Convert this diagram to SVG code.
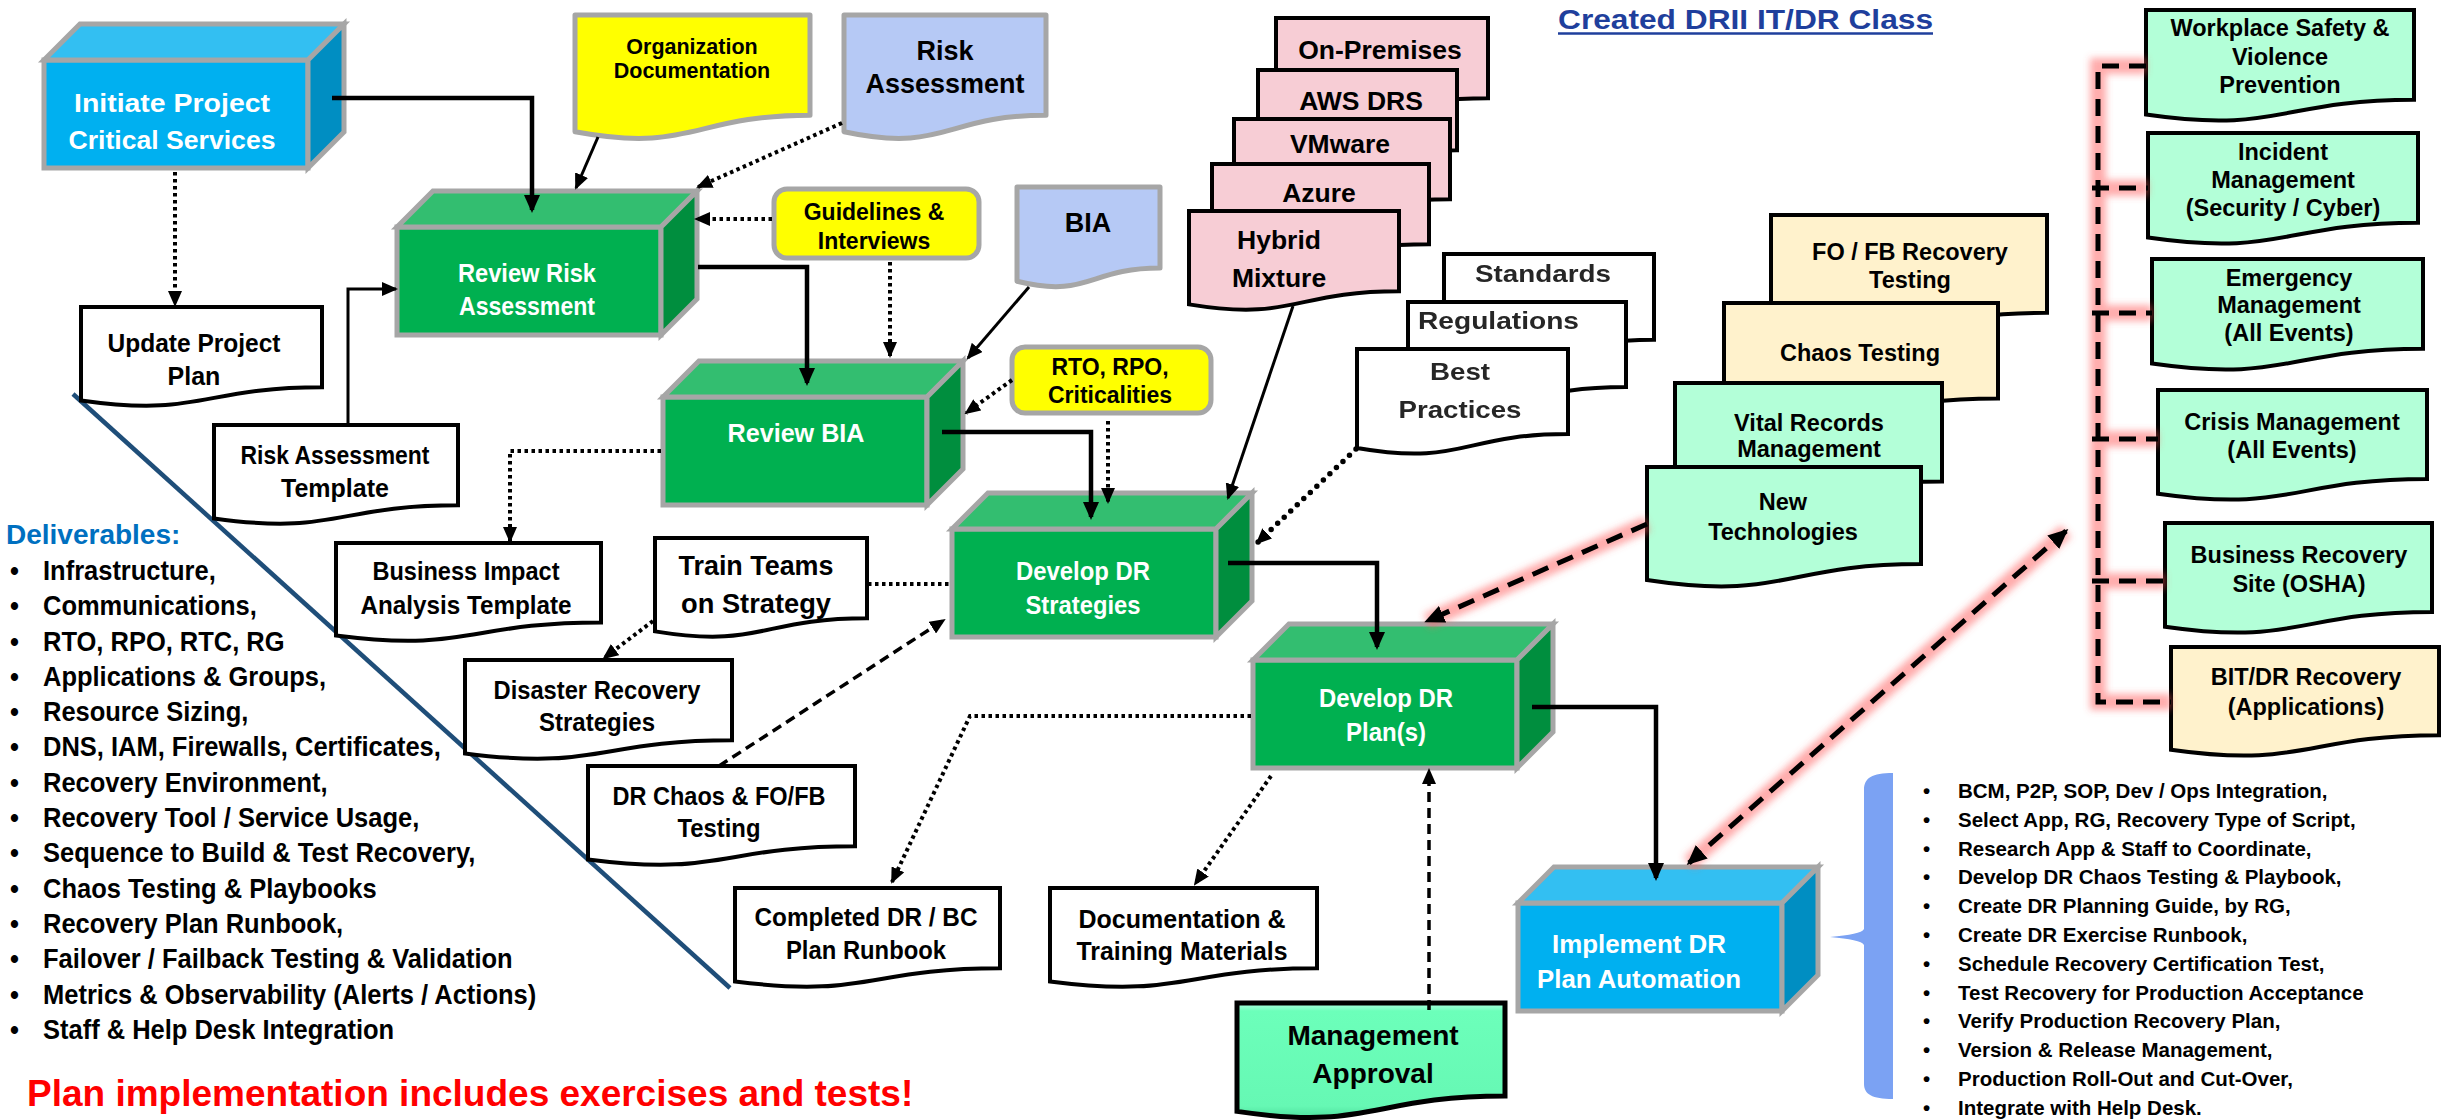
<svg xmlns="http://www.w3.org/2000/svg" width="2445" height="1120" viewBox="0 0 2445 1120">
<defs>
<style>
text { font-family: "Liberation Sans", Arial, Helvetica, sans-serif; font-weight: bold; }
.c { text-anchor: middle; }
.w { fill: #ffffff; }
.k { fill: #000000; }
.cube polygon, .cube rect { stroke: #a6a6a6; stroke-width: 5; stroke-linejoin: miter; }
.cube text { font-size: 26.5px; }
.gf { fill: #00b050; } .gt { fill: #33be70; } .gs { fill: #008e3e; }
.bf { fill: #00b0f0; } .bt { fill: #33bff2; } .bs { fill: #008ec2; }
.doc { stroke: #000000; stroke-width: 4; stroke-linejoin: miter; }
.docg { stroke: #a6a6a6; stroke-width: 5; stroke-linejoin: round; }
.white { fill: #ffffff; } .yellow { fill: #ffff00; } .lblue { fill: #b6c9f5; }
.pink { fill: #f7cdd5; } .mint { fill: #b3ffd8; } .cream { fill: #fff2cc; }
.out text { font-size: 25px; }
.solid { fill: none; stroke: #000; stroke-width: 4.5; }
.thin { fill: none; stroke: #000; stroke-width: 3; }
.dot { fill: none; stroke: #000; stroke-width: 4; stroke-dasharray: 3.5 3.5; }
.dash { fill: none; stroke: #000; stroke-width: 3.5; stroke-dasharray: 10 6; }
.glow { fill: none; stroke: #ff5a5a; stroke-width: 16; stroke-opacity: 0.5; }
.rdash { fill: none; stroke: #000; stroke-width: 5; stroke-dasharray: 17 10; }
.list { font-size: 27.5px; fill: #000; }
.rlist { font-size: 20.5px; fill: #000; }
</style>
<marker id="ah" markerUnits="userSpaceOnUse" markerWidth="18" markerHeight="16" viewBox="0 0 18 16" refX="15" refY="8" orient="auto"><path d="M0,0 L18,8 L0,16 Z" fill="#000"/></marker>
<marker id="ahs" markerUnits="userSpaceOnUse" markerWidth="16" markerHeight="14" viewBox="0 0 16 14" refX="14" refY="7" orient="auto"><path d="M0,0 L16,7 L0,14 Z" fill="#000"/></marker>
<marker id="ahr" markerUnits="userSpaceOnUse" markerWidth="20" markerHeight="18" viewBox="0 0 20 18" refX="17" refY="9" orient="auto-start-reverse"><path d="M0,0 L20,9 L0,18 Z" fill="#000"/></marker>
<filter id="soft" filterUnits="userSpaceOnUse" x="0" y="0" width="2445" height="1120"><feGaussianBlur stdDeviation="3.5"/></filter>
<filter id="haze" filterUnits="userSpaceOnUse" x="1300" y="230" width="400" height="260"><feGaussianBlur stdDeviation="0.6"/></filter>
<linearGradient id="mg" x1="0" y1="0" x2="0" y2="1">
<stop offset="0" stop-color="#b4ffe4"/><stop offset="0.07" stop-color="#6cffba"/><stop offset="0.9" stop-color="#66f8b4"/><stop offset="1" stop-color="#4fe09e"/>
</linearGradient>
</defs>

<rect x="0" y="0" width="2445" height="1120" fill="#ffffff"/>

<!-- diagonal divider behind the deliverable documents -->
<line x1="73" y1="394" x2="730" y2="988" stroke="#1f4e79" stroke-width="4.5"/>

<!-- process cubes -->
<g id="initiate" class="cube">
<rect class="bf" x="44" y="60" width="264" height="108"/>
<polygon class="bt" points="44,60 80,24 344,24 308,60"/>
<polygon class="bs" points="308,60 344,24 344,132 308,168"/>
<text class="c w" x="172" y="112" textLength="196" lengthAdjust="spacingAndGlyphs">Initiate Project</text>
<text class="c w" x="172" y="149" textLength="207" lengthAdjust="spacingAndGlyphs">Critical Services</text>
</g>
<g id="review-risk" class="cube">
<rect class="gf" x="397" y="227" width="264" height="108"/>
<polygon class="gt" points="397,227 433,191 697,191 661,227"/>
<polygon class="gs" points="661,227 697,191 697,299 661,335"/>
<text class="c w" x="527" y="282" textLength="138" lengthAdjust="spacingAndGlyphs">Review Risk</text>
<text class="c w" x="527" y="315" textLength="136" lengthAdjust="spacingAndGlyphs">Assessment</text>
</g>
<g id="review-bia" class="cube">
<rect class="gf" x="663" y="397" width="264" height="108"/>
<polygon class="gt" points="663,397 699,361 963,361 927,397"/>
<polygon class="gs" points="927,397 963,361 963,469 927,505"/>
<text class="c w" x="796" y="442" textLength="137" lengthAdjust="spacingAndGlyphs">Review BIA</text>
</g>
<g id="dr-strategies" class="cube">
<rect class="gf" x="952" y="529" width="264" height="108"/>
<polygon class="gt" points="952,529 988,493 1252,493 1216,529"/>
<polygon class="gs" points="1216,529 1252,493 1252,601 1216,637"/>
<text class="c w" x="1083" y="580" textLength="134" lengthAdjust="spacingAndGlyphs">Develop DR</text>
<text class="c w" x="1083" y="614" textLength="115" lengthAdjust="spacingAndGlyphs">Strategies</text>
</g>
<g id="dr-plans" class="cube">
<rect class="gf" x="1253" y="660" width="264" height="108"/>
<polygon class="gt" points="1253,660 1289,624 1553,624 1517,660"/>
<polygon class="gs" points="1517,660 1553,624 1553,732 1517,768"/>
<text class="c w" x="1386" y="707" textLength="134" lengthAdjust="spacingAndGlyphs">Develop DR</text>
<text class="c w" x="1386" y="741" textLength="80" lengthAdjust="spacingAndGlyphs">Plan(s)</text>
</g>
<g id="implement" class="cube">
<rect class="bf" x="1518" y="903" width="264" height="108"/>
<polygon class="bt" points="1518,903 1554,867 1818,867 1782,903"/>
<polygon class="bs" points="1782,903 1818,867 1818,975 1782,1011"/>
<text class="c w" x="1639" y="953" textLength="174" lengthAdjust="spacingAndGlyphs">Implement DR</text>
<text class="c w" x="1639" y="988" textLength="204" lengthAdjust="spacingAndGlyphs">Plan Automation</text>
</g>

<!-- input documents -->
<g id="org-doc">
<path class="docg yellow" d="M575,15 H810 V115.2 C692.5,115.2 692.5,153.4 575,131.8 Z"/>
<text class="c k" x="692" y="54" font-size="21.5">Organization</text>
<text class="c k" x="692" y="78" font-size="21.5">Documentation</text>
</g>
<g id="risk-assessment">
<path class="docg lblue" d="M844,15 H1046 V115.2 C945,115.2 945,153.4 844,131.8 Z"/>
<text class="c k" x="945" y="60" font-size="27">Risk</text>
<text class="c k" x="945" y="93" font-size="27">Assessment</text>
</g>
<g id="guidelines">
<rect class="docg yellow" x="774" y="189" width="205" height="69" rx="13"/>
<text class="c k" x="874" y="220" font-size="23">Guidelines &amp;</text>
<text class="c k" x="874" y="249" font-size="23">Interviews</text>
</g>
<g id="bia">
<path class="docg lblue" d="M1017,187 H1160 V268 C1088.5,268 1088.5,298.8 1017,281.3 Z"/>
<text class="c k" x="1088" y="232" font-size="27">BIA</text>
</g>
<g id="rto-rpo">
<rect class="docg yellow" x="1012" y="347" width="199" height="66" rx="13"/>
<text class="c k" x="1110" y="375" font-size="23">RTO, RPO,</text>
<text class="c k" x="1110" y="403" font-size="23">Criticalities</text>
</g>

<!-- output documents -->
<g id="update-plan" class="out">
<path class="doc white" d="M81,307 H322 V387.2 C201.5,387.2 201.5,417.7 81,400.4 Z"/>
<text class="c k" x="194" y="352" textLength="173" lengthAdjust="spacingAndGlyphs">Update Project</text>
<text class="c k" x="194" y="385">Plan</text>
</g>
<g id="risk-template" class="out">
<path class="doc white" d="M214,425 H458 V505.2 C336,505.2 336,535.7 214,518.4 Z"/>
<text class="c k" x="335" y="464" textLength="189" lengthAdjust="spacingAndGlyphs">Risk Assessment</text>
<text class="c k" x="335" y="497">Template</text>
</g>
<g id="bia-template" class="out">
<path class="doc white" d="M336,543 H601 V622.4 C468.5,622.4 468.5,652.6 336,635.5 Z"/>
<text class="c k" x="466" y="580" textLength="187" lengthAdjust="spacingAndGlyphs">Business Impact</text>
<text class="c k" x="466" y="614" textLength="211" lengthAdjust="spacingAndGlyphs">Analysis Template</text>
</g>
<g id="train-teams" class="out">
<path class="doc white" d="M655,538 H867 V618.2 C761,618.2 761,648.7 655,631.4 Z"/>
<text class="c k" x="756" y="575" style="font-size:27.5px" textLength="155" lengthAdjust="spacingAndGlyphs">Train Teams</text>
<text class="c k" x="756" y="613" style="font-size:27.5px" textLength="150" lengthAdjust="spacingAndGlyphs">on Strategy</text>
</g>
<g id="dr-strategy-doc" class="out">
<path class="doc white" d="M465,660 H732 V740.2 C598.5,740.2 598.5,770.7 465,753.4 Z"/>
<text class="c k" x="597" y="699" textLength="207" lengthAdjust="spacingAndGlyphs">Disaster Recovery</text>
<text class="c k" x="597" y="731" textLength="116" lengthAdjust="spacingAndGlyphs">Strategies</text>
</g>
<g id="chaos-doc" class="out">
<path class="doc white" d="M588,766 H855 V846.2 C721.5,846.2 721.5,876.7 588,859.4 Z"/>
<text class="c k" x="719" y="805" textLength="213" lengthAdjust="spacingAndGlyphs">DR Chaos &amp; FO/FB</text>
<text class="c k" x="719" y="837" textLength="83" lengthAdjust="spacingAndGlyphs">Testing</text>
</g>
<g id="runbook-doc" class="out">
<path class="doc white" d="M735,888 H1000 V968.2 C867.5,968.2 867.5,998.7 735,981.4 Z"/>
<text class="c k" x="866" y="926" textLength="223" lengthAdjust="spacingAndGlyphs">Completed DR / BC</text>
<text class="c k" x="866" y="959" textLength="160" lengthAdjust="spacingAndGlyphs">Plan Runbook</text>
</g>
<g id="training-doc" class="out">
<path class="doc white" d="M1050,888 H1317 V968.2 C1183.5,968.2 1183.5,998.7 1050,981.4 Z"/>
<text class="c k" x="1182" y="928" textLength="207" lengthAdjust="spacingAndGlyphs">Documentation &amp;</text>
<text class="c k" x="1182" y="960" textLength="211" lengthAdjust="spacingAndGlyphs">Training Materials</text>
</g>
<g id="mgmt-approval">
<path d="M1237,1003 H1505 V1096 C1371,1096 1371,1131.4 1237,1111.4 Z" fill="url(#mg)" stroke="#000" stroke-width="5"/>
<text class="c k" x="1373" y="1045" font-size="28">Management</text>
<text class="c k" x="1373" y="1083" font-size="28">Approval</text>
</g>

<!-- recovery platform stack -->
<g id="platforms">
<path class="doc pink" d="M1276,18 H1488 V98.2 C1382,98.2 1382,128.7 1276,111.4 Z"/>
<text class="c k" x="1380" y="59" font-size="26.5">On-Premises</text>
<path class="doc pink" d="M1258,70 H1457 V150.2 C1357.5,150.2 1357.5,180.7 1258,163.4 Z"/>
<text class="c k" x="1361" y="110" font-size="26.5">AWS DRS</text>
<path class="doc pink" d="M1234,119 H1450 V199.2 C1342,199.2 1342,229.7 1234,212.4 Z"/>
<text class="c k" x="1340" y="153" font-size="26.5">VMware</text>
<path class="doc pink" d="M1212,164 H1429 V244.2 C1320.5,244.2 1320.5,274.7 1212,257.4 Z"/>
<text class="c k" x="1319" y="202" font-size="26.5">Azure</text>
<path class="doc pink" d="M1189,211 H1399 V291.2 C1294,291.2 1294,321.7 1189,304.4 Z"/>
<text class="c k" x="1279" y="249" font-size="26.5">Hybrid</text>
<text class="c k" x="1279" y="287" font-size="26.5">Mixture</text>
</g>

<!-- standards stack -->
<g id="standards" filter="url(#haze)">
<path class="doc white" d="M1444,254 H1654 V339.8 C1549,339.8 1549,372.4 1444,353.9 Z"/>
<text class="c" x="1543" y="282" font-size="24" fill="#262626" textLength="136" lengthAdjust="spacingAndGlyphs">Standards</text>
<path class="doc white" d="M1408,302 H1626 V387 C1517,387 1517,419.3 1408,401 Z"/>
<text x="1418" y="329" font-size="24" fill="#262626" textLength="161" lengthAdjust="spacingAndGlyphs">Regulations</text>
<path class="doc white" d="M1357,349 H1568 V434 C1462.5,434 1462.5,466.3 1357,448 Z"/>
<text class="c" x="1460" y="380" font-size="24" fill="#262626" textLength="60" lengthAdjust="spacingAndGlyphs">Best</text>
<text class="c" x="1460" y="418" font-size="24" fill="#262626" textLength="123" lengthAdjust="spacingAndGlyphs">Practices</text>
</g>

<!-- testing and technology stack -->
<g id="testing-stack">
<path class="doc cream" d="M1771,215 H2047 V312.8 C1909,312.8 1909,350 1771,329 Z"/>
<text class="c k" x="1910" y="260" font-size="23.5">FO / FB Recovery</text>
<text class="c k" x="1910" y="288" font-size="23.5">Testing</text>
<path class="doc cream" d="M1724,303 H1998 V398.4 C1861,398.4 1861,434.7 1724,414.1 Z"/>
<text class="c k" x="1860" y="361" font-size="23.5">Chaos Testing</text>
<path class="doc mint" d="M1675,383 H1942 V481.6 C1808.5,481.6 1808.5,519.2 1675,497.9 Z"/>
<text class="c k" x="1809" y="431" font-size="23.5">Vital Records</text>
<text class="c k" x="1809" y="457" font-size="23.5">Management</text>
</g>
<g id="new-tech">
<path class="doc mint" d="M1647,467 H1921 V564 C1784,564 1784,601 1647,580 Z"/>
<text class="c k" x="1783" y="510" font-size="23.5">New</text>
<text class="c k" x="1783" y="540" font-size="23.5">Technologies</text>
</g>

<!-- program areas -->
<g id="workplace-safety">
<path class="doc mint" d="M2146,10 H2414 V99.8 C2280,99.8 2280,134 2146,114.6 Z"/>
<text class="c k" x="2280" y="36" font-size="23.5">Workplace Safety &amp;</text>
<text class="c k" x="2280" y="65" font-size="23.5">Violence</text>
<text class="c k" x="2280" y="93" font-size="23.5">Prevention</text>
</g>
<g id="incident-mgmt">
<path class="doc mint" d="M2148,133 H2418 V222.8 C2283,222.8 2283,257 2148,237.6 Z"/>
<text class="c k" x="2283" y="160" font-size="23.5">Incident</text>
<text class="c k" x="2283" y="188" font-size="23.5">Management</text>
<text class="c k" x="2283" y="216" font-size="23.5">(Security / Cyber)</text>
</g>
<g id="emergency-mgmt">
<path class="doc mint" d="M2152,259 H2423 V348.8 C2287.5,348.8 2287.5,383 2152,363.6 Z"/>
<text class="c k" x="2289" y="286" font-size="23.5">Emergency</text>
<text class="c k" x="2289" y="313" font-size="23.5">Management</text>
<text class="c k" x="2289" y="341" font-size="23.5">(All Events)</text>
</g>
<g id="crisis-mgmt">
<path class="doc mint" d="M2158,390 H2427 V479 C2292.5,479 2292.5,512.9 2158,493.7 Z"/>
<text class="c k" x="2292" y="430" font-size="23.5">Crisis Management</text>
<text class="c k" x="2292" y="458" font-size="23.5">(All Events)</text>
</g>
<g id="business-recovery">
<path class="doc mint" d="M2165,523 H2432 V612 C2298.5,612 2298.5,645.9 2165,626.7 Z"/>
<text class="c k" x="2299" y="563" font-size="23.5">Business Recovery</text>
<text class="c k" x="2299" y="592" font-size="23.5">Site (OSHA)</text>
</g>
<g id="bit-dr">
<path class="doc cream" d="M2171,647 H2439 V735.2 C2305,735.2 2305,768.8 2171,749.7 Z"/>
<text class="c k" x="2306" y="685" font-size="23.5">BIT/DR Recovery</text>
<text class="c k" x="2306" y="715" font-size="23.5">(Applications)</text>
</g>

<!-- connectors -->
<g id="connectors">
<path class="solid" d="M332,98 H532 V210" marker-end="url(#ah)"/>
<path class="solid" d="M698,267 H807 V383" marker-end="url(#ah)"/>
<path class="solid" d="M942,432 H1091 V517" marker-end="url(#ah)"/>
<path class="solid" d="M1228,563 H1377 V647" marker-end="url(#ah)"/>
<path class="solid" d="M1532,707 H1656 V878" marker-end="url(#ah)"/>

<path class="thin" d="M598,137 L576,188" marker-end="url(#ahs)"/>
<path class="thin" d="M1029,287 L968,358" marker-end="url(#ahs)"/>
<path class="thin" d="M1293,306 L1228,498" marker-end="url(#ahs)"/>
<path class="thin" d="M348,425 V289 H396" marker-end="url(#ahs)"/>

<path class="dot" d="M175,172 V305" marker-end="url(#ahs)"/>
<path class="dot" d="M842,123 L698,187" marker-end="url(#ahs)"/>
<path class="dot" d="M772,219 H696" marker-end="url(#ahs)"/>
<path class="dot" d="M890,262 V356" marker-end="url(#ahs)"/>
<path class="dot" d="M1012,380 L966,413" marker-end="url(#ahs)"/>
<path class="dot" d="M1108,421 V502" marker-end="url(#ahs)"/>
<path d="M1356,449 L1257,543" fill="none" stroke="#000" stroke-width="5.5" stroke-linecap="round" stroke-dasharray="0 9" marker-end="url(#ahs)"/>
<path class="dot" d="M661,451 H510 V541" marker-end="url(#ahs)"/>
<path class="dot" d="M868,584 H950"/>
<path class="dot" d="M653,621 L604,658" marker-end="url(#ahs)"/>
<path class="dot" d="M1251,716 H970 L892,882" marker-end="url(#ahs)"/>
<path class="dot" d="M1271,776 L1195,884" marker-end="url(#ahs)"/>

<path class="dash" d="M719,766 L944,620" stroke-dasharray="12 6" marker-end="url(#ahs)"/>
<path class="dash" d="M1429,1010 V770" marker-end="url(#ahs)"/>

<path class="glow" filter="url(#soft)" d="M1647,524 L1427,621"/>
<path class="rdash" d="M1647,524 L1427,621" marker-end="url(#ahr)"/>
<path class="glow" filter="url(#soft)" d="M1689,863 L2066,531"/>
<path class="rdash" d="M1689,863 L2066,531" marker-start="url(#ahr)" marker-end="url(#ahr)"/>

<path class="glow" filter="url(#soft)" d="M2146,66 H2098 V702 H2171 M2092,188 H2148 M2092,313 H2152 M2092,439 H2158 M2092,581 H2165"/>
<path class="rdash" d="M2146,66 H2098 V702 H2171" stroke-dasharray="24 16"/>
<path class="rdash" d="M2092,188 H2148 M2092,313 H2152 M2092,439 H2158 M2092,581 H2165" stroke-dasharray="22 12"/>
</g>

<!-- title -->
<g id="title">
<text x="1558" y="29" font-size="28" fill="#1f3f9c" textLength="375" lengthAdjust="spacingAndGlyphs">Created DRII IT/DR Class</text>
<line x1="1558" y1="33.5" x2="1933" y2="33.5" stroke="#1f3f9c" stroke-width="2.5"/>
</g>

<!-- deliverables -->
<g id="deliverables">
<text x="6" y="544" font-size="28" fill="#0070c0">Deliverables:</text>
<g class="list" transform="scale(0.927,1)">
<text x="10.8" y="580">•</text><text x="46.4" y="580">Infrastructure,</text>
<text x="10.8" y="615.3">•</text><text x="46.4" y="615.3">Communications,</text>
<text x="10.8" y="650.6">•</text><text x="46.4" y="650.6">RTO, RPO, RTC, RG</text>
<text x="10.8" y="685.9">•</text><text x="46.4" y="685.9">Applications &amp; Groups,</text>
<text x="10.8" y="721.2">•</text><text x="46.4" y="721.2">Resource Sizing,</text>
<text x="10.8" y="756.5">•</text><text x="46.4" y="756.5">DNS, IAM, Firewalls, Certificates,</text>
<text x="10.8" y="791.8">•</text><text x="46.4" y="791.8">Recovery Environment,</text>
<text x="10.8" y="827.1">•</text><text x="46.4" y="827.1">Recovery Tool / Service Usage,</text>
<text x="10.8" y="862.4">•</text><text x="46.4" y="862.4">Sequence to Build &amp; Test Recovery,</text>
<text x="10.8" y="897.7">•</text><text x="46.4" y="897.7">Chaos Testing &amp; Playbooks</text>
<text x="10.8" y="933">•</text><text x="46.4" y="933">Recovery Plan Runbook,</text>
<text x="10.8" y="968.3">•</text><text x="46.4" y="968.3">Failover / Failback Testing &amp; Validation</text>
<text x="10.8" y="1003.6">•</text><text x="46.4" y="1003.6">Metrics &amp; Observability (Alerts / Actions)</text>
<text x="10.8" y="1038.9">•</text><text x="46.4" y="1038.9">Staff &amp; Help Desk Integration</text>
</g>
</g>

<text id="note" x="27" y="1106" font-size="37" fill="#ff0000">Plan implementation includes exercises and tests!</text>

<!-- automation task list with brace -->
<g id="automation-tasks">
<path d="M1893,773 C1872,773 1864,778 1864,790 L1864,929 C1862,933 1850,935 1830,937 C1850,939 1862,941 1864,945 L1864,1084 C1864,1094 1872,1099 1893,1099 Z" fill="#7ba2f3"/>
<g class="rlist">
<text x="1923" y="798">•</text><text x="1958" y="798">BCM, P2P, SOP, Dev / Ops Integration,</text>
<text x="1923" y="826.8">•</text><text x="1958" y="826.8">Select App, RG, Recovery Type of Script,</text>
<text x="1923" y="855.6">•</text><text x="1958" y="855.6">Research App &amp; Staff to Coordinate,</text>
<text x="1923" y="884.4">•</text><text x="1958" y="884.4">Develop DR Chaos Testing &amp; Playbook,</text>
<text x="1923" y="913.2">•</text><text x="1958" y="913.2">Create DR Planning Guide, by RG,</text>
<text x="1923" y="942">•</text><text x="1958" y="942">Create DR Exercise Runbook,</text>
<text x="1923" y="970.8">•</text><text x="1958" y="970.8">Schedule Recovery Certification Test,</text>
<text x="1923" y="999.6">•</text><text x="1958" y="999.6">Test Recovery for Production Acceptance</text>
<text x="1923" y="1028.4">•</text><text x="1958" y="1028.4">Verify Production Recovery Plan,</text>
<text x="1923" y="1057.2">•</text><text x="1958" y="1057.2">Version &amp; Release Management,</text>
<text x="1923" y="1086">•</text><text x="1958" y="1086">Production Roll-Out and Cut-Over,</text>
<text x="1923" y="1114.8">•</text><text x="1958" y="1114.8">Integrate with Help Desk.</text>
</g>
</g>
</svg>
